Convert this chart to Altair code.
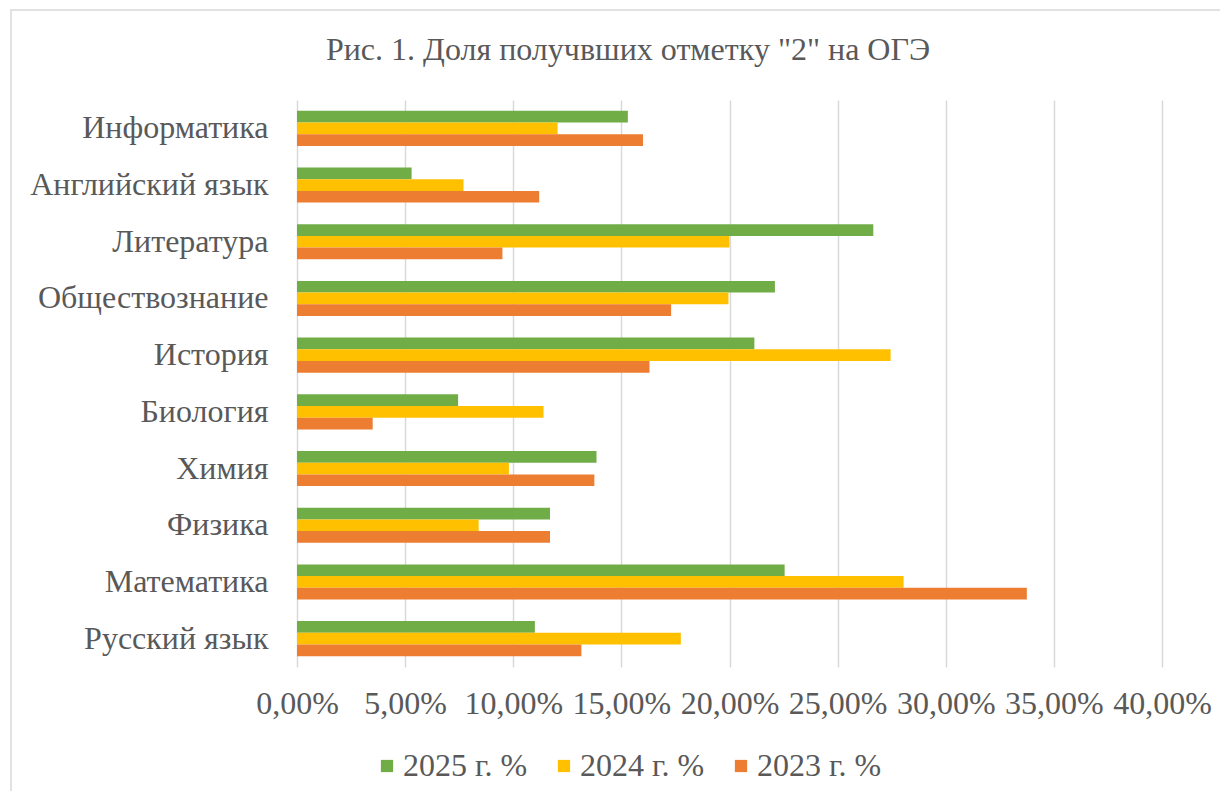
import altair as alt
import pandas as pd

subjects = ["Информатика", "Английский язык", "Литература", "Обществознание", "История",
            "Биология", "Химия", "Физика", "Математика", "Русский язык"]
years = ["2025 г. %", "2024 г. %", "2023 г. %"]
v2025 = [15.3, 5.3, 26.65, 22.1, 21.15, 7.45, 13.85, 11.7, 22.55, 11.0]
v2024 = [12.05, 7.7, 20.0, 19.95, 27.45, 11.4, 9.8, 8.4, 28.05, 17.75]
v2023 = [16.0, 11.2, 9.5, 17.3, 16.3, 3.5, 13.75, 11.7, 33.75, 13.15]
colors = ["#70AD47", "#FFC000", "#ED7D31"]
ticks = [0, 5, 10, 15, 20, 25, 30, 35, 40]
title_text = 'Рис. 1. Доля получвших отметку "2" на ОГЭ'

rows = []
for yr, vals in zip(years, [v2025, v2024, v2023]):
    for s, v in zip(subjects, vals):
        rows.append({"subject": s, "year": yr, "value": v / 100.0})
df = pd.DataFrame(rows)

FONT = "Liberation Serif"
TXT = "#595959"
FS = 32

bars = alt.Chart(df).mark_bar(size=11.7).encode(
    y=alt.Y("subject:N", sort=subjects, title=None,
            scale=alt.Scale(paddingInner=0.38, paddingOuter=0.19),
            axis=alt.Axis(labelFont=FONT, labelFontSize=FS, labelColor=TXT, labelLimit=400,
                          labelPadding=29, ticks=False, domain=False, grid=False)),
    yOffset=alt.YOffset("year:N", sort=years, scale=alt.Scale(paddingInner=0, paddingOuter=0)),
    x=alt.X("value:Q", title=None,
            scale=alt.Scale(domain=[0, 0.40], nice=False),
            axis=alt.Axis(values=[t / 100 for t in ticks], format=".2%",
                          labelExpr="replace(format(datum.value, '.2%'), '.', ',')",
                          labelFont=FONT, labelFontSize=FS, labelColor=TXT,
                          labelPadding=21, ticks=False, domain=False,
                          grid=True, gridColor="#D9D9D9", gridWidth=1.5,
                          labelFlush=False, labelOverlap=False)),
    color=alt.Color("year:N", sort=years,
                    scale=alt.Scale(domain=years, range=colors),
                    legend=alt.Legend(title=None, orient="none", direction="horizontal",
                                      legendX=74, legendY=650,
                                      symbolType="square", symbolSize=150,
                                      symbolStrokeWidth=0, symbolOpacity=1,
                                      labelFont=FONT, labelFontSize=FS, labelColor=TXT,
                                      labelLimit=300,
                                      labelOffset=0, columnPadding=20)),
)

frame_df = pd.DataFrame({"k": [0]})
frame = alt.Chart(frame_df).mark_rect(fill=None, stroke="#D9D9D9", strokeWidth=1.5).encode(
    x=alt.value(-286), x2=alt.value(1200), y=alt.value(-90), y2=alt.value(900)
)

title_df = pd.DataFrame({"t": [title_text]})
title = alt.Chart(title_df).mark_text(font=FONT, fontSize=FS, color=TXT,
                                      align="center", baseline="middle").encode(
    x=alt.value(331), y=alt.value(-50), text="t:N"
)

chart = alt.layer(frame, bars, title).properties(
    width=865, height=567,
    padding={"left": 289, "top": 92, "right": 58, "bottom": 124},
    autosize=alt.AutoSizeParams(type="none"),
).configure(background="white", font=FONT).configure_view(stroke=None)

chart.save("out.html", embed_options={"renderer": "svg", "actions": False})
